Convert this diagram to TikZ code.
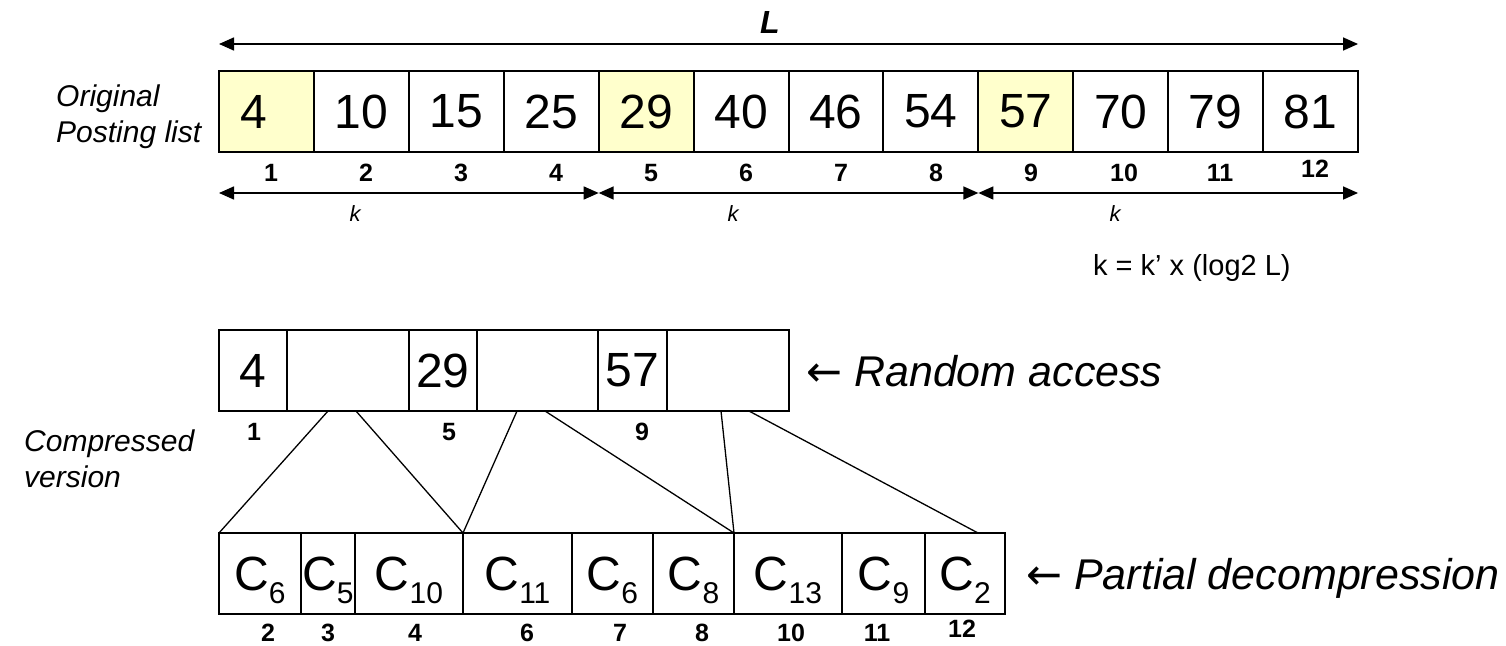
\documentclass[tikz,border=0pt]{standalone}
\usepackage{fontspec}
\setmainfont{Liberation Sans}
\newfontfamily\arrowfont{DejaVu Sans}
\usetikzlibrary{arrows.meta}
\definecolor{hlyellow}{HTML}{FFFFCC}
\newcommand{\Cs}[1]{C\raisebox{-13pt}[0pt][0pt]{\fontsize{30}{30}\selectfont #1}}
\begin{document}
\begin{tikzpicture}[x=1pt,y=-1pt,
  cell/.style={draw, line width=2pt, inner sep=0pt, outer sep=0pt, minimum height=81pt, font=\fontsize{48}{48}\selectfont},
  hl/.style={fill=hlyellow},
  idx/.style={anchor=base, inner sep=0pt, font=\bfseries\fontsize{25}{25}\selectfont},
  dimarrow/.style={{Triangle[length=15pt,width=13pt]}-{Triangle[length=15pt,width=13pt]}, line width=1.5pt},
  conn/.style={line width=1.3pt},
  side/.style={anchor=base west, inner sep=0pt, align=left, font=\itshape\fontsize{30}{36}\selectfont},
  klabel/.style={anchor=base, inner sep=0pt, font=\itshape\fontsize{22}{22}\selectfont},
  callout/.style={anchor=base west, inner sep=0pt, font=\fontsize{43}{43}\selectfont}]
\useasboundingbox (0,0) rectangle (1506,645);

% top row
\node[cell,hl,minimum width=94.92pt,inner xsep=21pt,text width=52.92pt,align=left,anchor=west] (t1) at (219,111.5) {4};
\node[cell,minimum width=94.92pt,anchor=west] (t2) at (t1.east) {10};
\node[cell,minimum width=94.92pt,anchor=west] (t3) at (t2.east) {15};
\node[cell,minimum width=94.92pt,anchor=west] (t4) at (t3.east) {25};
\node[cell,hl,minimum width=94.92pt,anchor=west] (t5) at (t4.east) {29};
\node[cell,minimum width=94.92pt,anchor=west] (t6) at (t5.east) {40};
\node[cell,minimum width=94.92pt,anchor=west] (t7) at (t6.east) {46};
\node[cell,minimum width=94.92pt,anchor=west] (t8) at (t7.east) {54};
\node[cell,hl,minimum width=94.92pt,anchor=west] (t9) at (t8.east) {57};
\node[cell,minimum width=94.92pt,anchor=west] (t10) at (t9.east) {70};
\node[cell,minimum width=94.92pt,anchor=west] (t11) at (t10.east) {79};
\node[cell,minimum width=94.92pt,anchor=west] (t12) at (t11.east) {81};

% top labels
\node[idx] (ti1) at (271,181) {1};
\node[idx] (ti2) at (366,181) {2};
\node[idx] (ti3) at (461,181) {3};
\node[idx] (ti4) at (556,181) {4};
\node[idx] (ti5) at (651,181) {5};
\node[idx] (ti6) at (746,181) {6};
\node[idx] (ti7) at (841,181) {7};
\node[idx] (ti8) at (936,181) {8};
\node[idx] (ti9) at (1031,181) {9};
\node[idx] (ti10) at (1124,181) {10};
\node[idx] (ti11) at (1220,181) {11};
\node[idx] (ti12) at (1315,177) {12};

% L arrow
\draw[dimarrow] ([yshift=27pt]t1.north west) -- ([yshift=27pt]t12.north east);
\node[anchor=base, inner sep=0pt, font=\bfseries\itshape\fontsize{32}{32}\selectfont] (Llab) at (770,33) {L};

% k arrows
\draw[dimarrow] ([yshift=-41pt]t1.south west) -- ([yshift=-41pt]t4.south east);
\draw[dimarrow] ([yshift=-41pt]t5.south west) -- ([yshift=-41pt]t8.south east);
\draw[dimarrow] ([yshift=-41pt]t9.south west) -- ([yshift=-41pt]t12.south east);
\node[klabel] (k1) at (355,221) {k};
\node[klabel] (k2) at (733,221) {k};
\node[klabel] (k3) at (1115,221) {k};

\node[anchor=base west, inner sep=0pt, font=\fontsize{29}{29}\selectfont] (formula) at (1093,275) {k = k’ x (log2 L)};

\node[side] (orig) at (56,142) {Original\\Posting list};

% compressed row
\node[cell,minimum width=68pt,anchor=west] (r1) at (219,370.5) {4};
\node[cell,minimum width=122pt,anchor=west] (r2) at (r1.east) {};
\node[cell,minimum width=68pt,anchor=west] (r3) at (r2.east) {29};
\node[cell,minimum width=121pt,anchor=west] (r4) at (r3.east) {};
\node[cell,minimum width=69pt,anchor=west] (r5) at (r4.east) {57};
\node[cell,minimum width=122pt,anchor=west] (r6) at (r5.east) {};
\node[idx] (ri1) at (254,440) {1};
\node[idx] (ri5) at (449,440) {5};
\node[idx] (ri9) at (642,440) {9};

\node[callout] (ra) at (806,386) {{\arrowfont ←} \itshape Random access};
\node[side] (comp) at (24,487) {Compressed\\version};

% bottom row
\node[cell,minimum width=82pt,anchor=west] (b1) at (219,573.5) {\Cs{6}};
\node[cell,minimum width=54pt,anchor=west] (b2) at (b1.east) {\Cs{5}};
\node[cell,minimum width=108pt,anchor=west] (b3) at (b2.east) {\Cs{10}};
\node[cell,minimum width=109pt,anchor=west] (b4) at (b3.east) {\Cs{11}};
\node[cell,minimum width=81pt,anchor=west] (b5) at (b4.east) {\Cs{6}};
\node[cell,minimum width=81pt,anchor=west] (b6) at (b5.east) {\Cs{8}};
\node[cell,minimum width=108pt,anchor=west] (b7) at (b6.east) {\Cs{13}};
\node[cell,minimum width=83pt,anchor=west] (b8) at (b7.east) {\Cs{9}};
\node[cell,minimum width=80pt,anchor=west] (b9) at (b8.east) {\Cs{2}};
\node[idx] (bi2) at (268,641) {2};
\node[idx] (bi3) at (328,641) {3};
\node[idx] (bi4) at (415,641) {4};
\node[idx] (bi6) at (527,641) {6};
\node[idx] (bi7) at (620,641) {7};
\node[idx] (bi8) at (702,641) {8};
\node[idx] (bi10) at (791,641) {10};
\node[idx] (bi11) at (877,641) {11};
\node[idx] (bi12) at (962,637) {12};

\node[callout] (pd) at (1026,589) {{\arrowfont ←} \itshape Partial decompression};

% connectors
\draw[conn] ([xshift=41pt]r2.south west) -- (b1.north west);
\draw[conn] ([xshift=69pt]r2.south west) -- (b3.north east);
\draw[conn] ([xshift=40pt]r4.south west) -- (b3.north east);
\draw[conn] ([xshift=68pt]r4.south west) -- (b6.north east);
\draw[conn] ([xshift=54pt]r6.south west) -- (b6.north east);
\draw[conn] ([xshift=82pt]r6.south west) -- ([xshift=53pt]b9.north west);
\end{tikzpicture}
\end{document}
